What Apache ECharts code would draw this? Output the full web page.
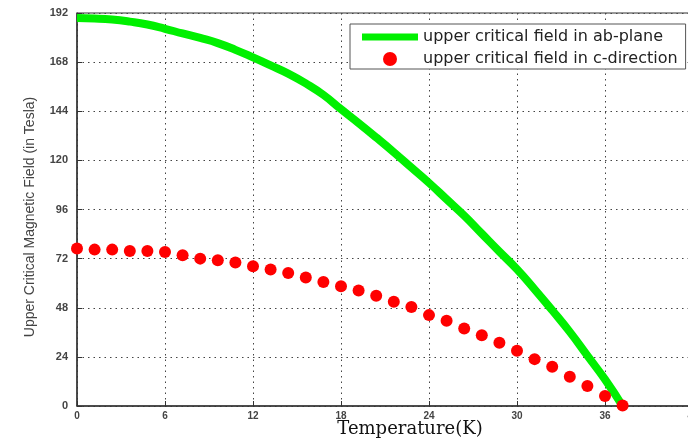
<!DOCTYPE html>
<html>
<head>
<meta charset="utf-8">
<script src="https://cdn.jsdelivr.net/npm/echarts@6/dist/echarts.min.js"></script>
<style>html,body{margin:0;padding:0;background:#fff;}#c{width:688px;height:440px;}</style>
</head>
<body>
<div id="c"></div>
<script>
var temperature = [0,1.2,2.4,3.6,4.8,6,7.2,8.4,9.6,10.8,12,13.2,14.4,15.6,16.8,18,19.2,20.4,21.6,22.8,24,25.2,26.4,27.6,28.8,30,31.2,32.4,33.6,34.8,36,37.2];
var hcAb = [189.5,189.3,188.8,187.8,186.4,184.3,182,179.8,177.3,174,170.3,166.4,162.4,157.6,152,145,138.2,131.2,124,116.5,109,101,93,84.2,75.4,66.8,57,46.8,36.2,24.6,13,0];
var hcC = [76.9,76.4,76.4,75.7,75.7,75.2,73.7,72.0,71.2,70.1,68.3,66.7,65.0,62.8,60.6,58.5,56.4,53.9,50.9,48.4,44.4,41.6,37.9,34.6,30.9,27.0,22.9,19.2,14.3,9.8,4.9,0.3];
var xTicks = [0,6,12,18,24,30,36,42];
var yTicks = [0,24,48,72,96,120,144,168,192];
var seriesNames = ['upper critical field in ab-plane','upper critical field in c-direction'];

function pairs(xs, ys){ return xs.map(function(x,i){ return [x, ys[i]]; }); }

var chart = echarts.init(document.getElementById('c'), null, {renderer:'canvas'});
var gridLine = {show:true, lineStyle:{color:'#444', width:1, type:[1.5,4]}};
var bandIcon = 'path://M0,0h0.01v0.01h-0.01zM0,3.5h56v7h-56zM0,14h0.01v-0.01h-0.01z';
chart.setOption({
  animation:false,
  backgroundColor:'#fff',
  grid:{left:77, top:13, width:616, height:393, outerBoundsMode:'none', containLabel:false,
        show:true, borderColor:'#333', borderWidth:1, backgroundColor:'#fff'},
  legend:{
    orient:'vertical', left:350, top:24,
    padding:[5,8,2,12], itemGap:6, itemWidth:56, itemHeight:14,
    backgroundColor:'#fff', borderColor:'#555', borderWidth:1, borderRadius:0,
    textStyle:{fontFamily:'DejaVu Sans, sans-serif', fontSize:16, color:'#222'},
    data:[{name:seriesNames[0], icon:bandIcon}, {name:seriesNames[1], icon:'circle'}]
  },
  xAxis:{
    type:'value', min:xTicks[0], max:xTicks[xTicks.length-1], interval:6,
    name:'Temperature(K)', nameLocation:'middle', nameGap:14, nameMoveOverlap:false,
    nameTextStyle:{fontFamily:'DejaVu Serif, serif', fontSize:18, color:'#111', padding:[0,0,0,50]},
    axisLine:{show:true, lineStyle:{color:'#333', width:1.5}},
    axisTick:{show:true, inside:true, length:5, lineStyle:{color:'#333'}},
    axisLabel:{fontFamily:'Liberation Sans, Arial, sans-serif', fontSize:10, fontWeight:'bold', color:'#444', margin:5},
    splitLine:gridLine
  },
  yAxis:{
    type:'value', min:yTicks[0], max:yTicks[yTicks.length-1], interval:24,
    name:'Upper Critical Magnetic Field (in Tesla)', nameLocation:'middle', nameGap:40, nameMoveOverlap:false,
    nameTextStyle:{fontFamily:'Liberation Sans, Arial, sans-serif', fontSize:14, color:'#444', padding:[0,15,0,0]},
    axisLine:{show:true, lineStyle:{color:'#333', width:1.5}},
    axisTick:{show:true, inside:true, length:5, lineStyle:{color:'#333'}},
    axisLabel:{fontFamily:'Liberation Sans, Arial, sans-serif', fontSize:11, fontWeight:'bold', color:'#444', margin:9},
    splitLine:gridLine
  },
  series:[
    {name:seriesNames[0], type:'line', data:pairs(temperature, hcAb), smooth:true, showSymbol:false, symbol:'none',
     color:'#00f000', lineStyle:{color:'#00f000', width:8}, z:2},
    {name:seriesNames[1], type:'scatter', data:pairs(temperature, hcC), symbol:'circle', symbolSize:12,
     itemStyle:{color:'#ff0000', opacity:1}, z:3}
  ]
});
</script>
</body>
</html>
